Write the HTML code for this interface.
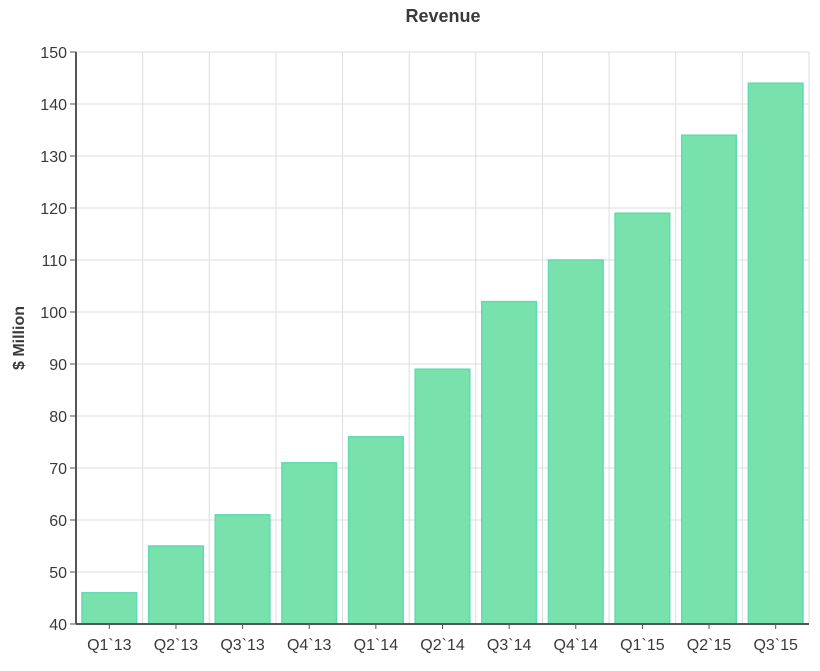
<!DOCTYPE html>
<html><head><meta charset="utf-8"><style>
body{margin:0;background:#fff;font-family:"Liberation Sans",sans-serif}
text{font-family:"Liberation Sans",sans-serif;fill:#3a3a3a}
</style></head><body>
<svg id="c" width="820" height="666"></svg>
<script>
const categories=["Q1`13","Q2`13","Q3`13","Q4`13","Q1`14","Q2`14","Q3`14","Q4`14","Q1`15","Q2`15","Q3`15"];
const revenue=[46,55,61,71,76,89,102,110,119,134,144];
const yTicks=[40,50,60,70,80,90,100,110,120,130,140,150];
const L=76,R=809,T=52,B=624,yMin=40,yMax=150;
const bw=(R-L)/categories.length;
const y=v=>B-(v-yMin)/(yMax-yMin)*(B-T);
const x=i=>L+i*bw;
const s=document.getElementById('c');
const NS="http://www.w3.org/2000/svg";
function mk(t,a,p){const e=document.createElementNS(NS,t);for(const k in a)e.setAttribute(k,a[k]);(p||s).appendChild(e);return e;}
yTicks.forEach(v=>{
 const g=mk('line',{x1:L,x2:R,y1:y(v),y2:y(v),stroke:'#ddd','stroke-width':1});
 
 
 const tk=mk('line',{x1:L-6,x2:L,y1:y(v),y2:y(v),stroke:'#555'});
 
 
 const t=mk('text',{x:L-9,y:y(v)+6,'text-anchor':'end','font-size':16});
 t.textContent=v;
 
 
});
for(let i=0;i<=categories.length;i++){
 const g=mk('line',{x1:x(i),x2:x(i),y1:T,y2:B,stroke:'#ddd'});
 
 
}
categories.forEach((c,i)=>{
 const v=revenue[i],pad=bw*0.09;
 const r=mk('rect',{x:x(i)+pad,y:y(v),width:bw-2*pad,height:B-y(v),fill:'#79e2ac',stroke:'#5fdab4','stroke-width':1.5});
 
 
 const cx=x(i)+bw/2;
 const tk=mk('line',{x1:cx,x2:cx,y1:B,y2:B+5,stroke:'#555'});
 
 
 const t=mk('text',{x:cx,y:B+26,'text-anchor':'middle','font-size':16});
 t.textContent=c;
 
 
});
const ax=mk('line',{x1:L,x2:L,y1:T,y2:B,stroke:'#555','stroke-width':2});


const bx=mk('line',{x1:L,x2:R,y1:B,y2:B,stroke:'#555','stroke-width':2});


const ti=mk('text',{x:443,y:22,'text-anchor':'middle','font-size':18,'font-weight':'bold'});
ti.textContent='Revenue';


const yt=mk('text',{x:24,y:338,'text-anchor':'middle','font-size':16,'font-weight':'bold',transform:'rotate(-90 24 338)'});
yt.textContent='$ Million';


</script>
</body></html>
